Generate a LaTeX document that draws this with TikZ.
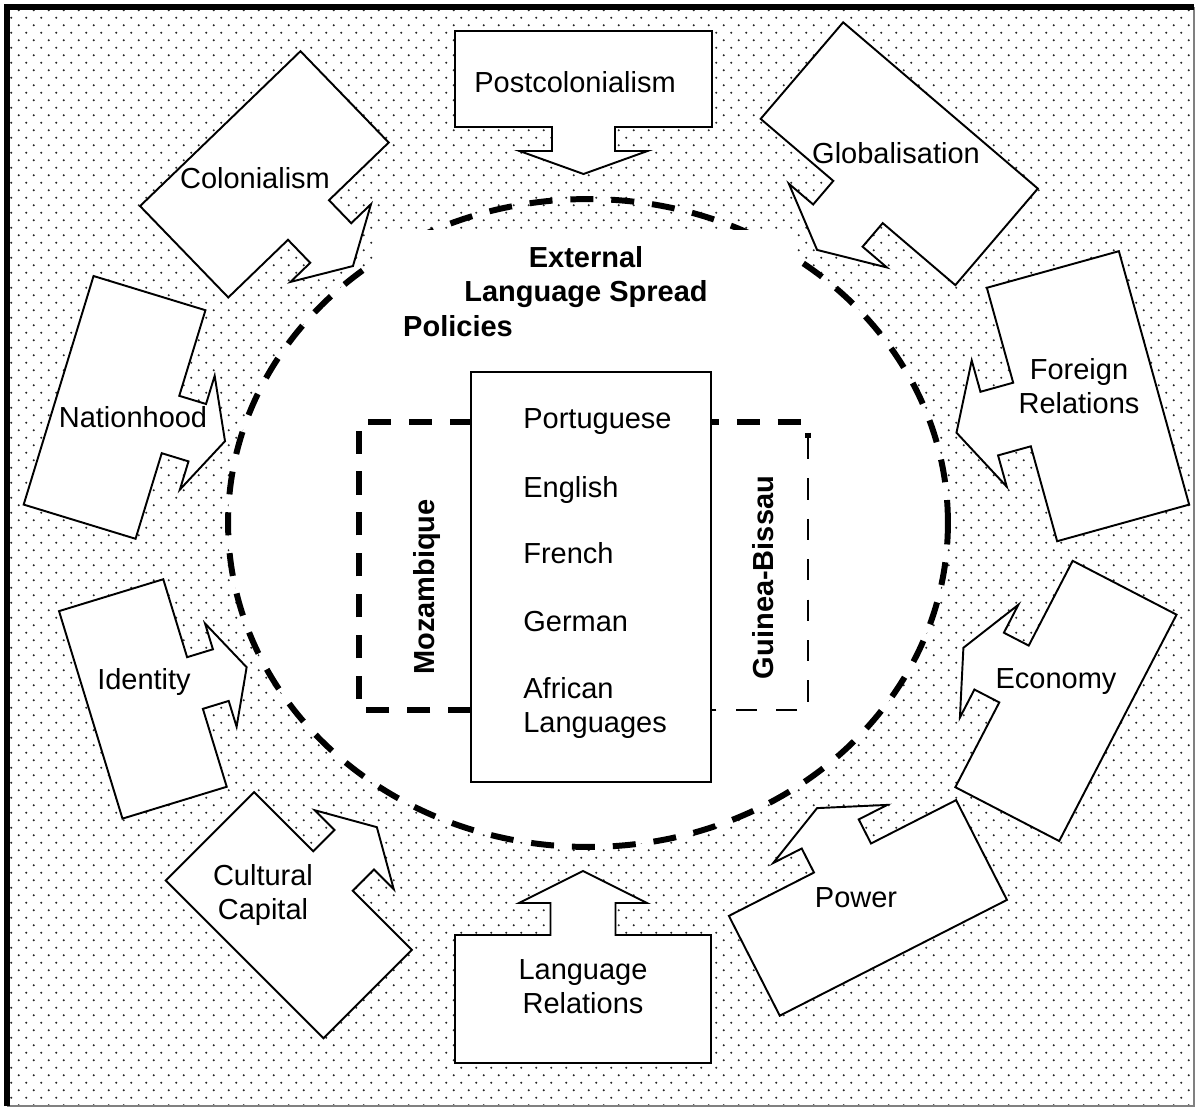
\documentclass[tikz,border=0pt]{standalone}
\usepackage{fontspec}
\setmainfont{Liberation Sans}
\usetikzlibrary{shapes.geometric, patterns}

\pgfdeclarepatternformonly{bgdots}{\pgfqpoint{0pt}{0pt}}{\pgfqpoint{8.536pt}{8.536pt}}{\pgfqpoint{8.536pt}{8.536pt}}{%
  \pgfpathcircle{\pgfqpoint{2.134pt}{2.134pt}}{0.65pt}%
  \pgfpathcircle{\pgfqpoint{6.402pt}{6.402pt}}{0.65pt}%
  \pgfusepath{fill}}

\tikzset{
  lbl/.style={font=\fontsize{16.5}{19.3}\selectfont, inner sep=0pt, align=center},
  boldlbl/.style={lbl, font=\fontsize{16.5}{19.3}\selectfont\bfseries},
  callbox/.style={draw, fill=white, line width=1.1pt, line join=miter},
  bigdash/.style={line width=3.4pt, dash pattern=on 13.1pt off 10.2pt},
}

% #1,#2 base of arrow, #3 angle, #4 box length, #5 box width, #6 neck width, #7 neck length, #8 head width, #9 head length
\newcommand{\drawcallout}[9]{%
  \begin{scope}[shift={(#1,#2)}, rotate=#3]
    \draw[callbox] (-#4,-#5/2) -- (0,-#5/2) -- (0,-#6/2) -- (#7,-#6/2) -- (#7,-#8/2)
      -- ({#7+#9},0) -- (#7,#8/2) -- (#7,#6/2) -- (0,#6/2) -- (0,#5/2) -- (-#4,#5/2) -- cycle;
  \end{scope}}

\begin{document}
\begin{tikzpicture}[x=0.02cm, y=0.02cm, rotate=180, xscale=-1]
\fill[white] (0,0) rectangle (1197,1109);
\useasboundingbox (0,0) rectangle (1197,1109);
\path[pattern=bgdots, pattern color=black!85] (7,7) rectangle (1194,1106);
\draw[gray, line width=0.6pt] (7,1106) -- (1194,1106) -- (1194,7);
\draw[line width=3.4pt] (7,1106) -- (7,7) -- (1194,7);

\begin{scope}
\clip (0,230) rectangle (1197,1109);
\fill[white] (588,523) ellipse [x radius=7.2cm, y radius=6.48cm];
\end{scope}
\node[ellipse, draw, bigdash, minimum width=14.4cm, minimum height=12.96cm, inner sep=0pt] (policy) at (588,523) {};

\fill[white] (375,230) rectangle (793,345);
\node[boldlbl] (title) at (586,277) {External\\Language Spread};
\node[boldlbl] (titlepol) at (458,326.5) {Policies};

\draw[bigdash] (471,710) -- (359,710) -- (359,422) -- (808,422) -- (808,438);
\draw[line width=1.3pt, dash pattern=on 12pt off 11pt] (808,438) -- (808,710) -- (711,710);

\node[draw, fill=white, line width=1.1pt, minimum width=4.8cm, minimum height=8.2cm] (langbox) at (591,577) {};
\foreach \lang/\ypos [count=\i] in {Portuguese/422, English/490, French/553, German/622}
  \node[lbl, anchor=west] (lang\i) at (523,\ypos) {\lang};
\node[lbl, anchor=west, align=left] (lang5) at (523,708) {African\\Languages};

\node[boldlbl, rotate=90] (moz) at (427,587) {Mozambique};
\node[boldlbl, rotate=90] (gbissau) at (763.5,577.5) {Guinea-Bissau};

\drawcallout{583.5}{127}{90}{96}{257}{63}{24}{128}{23}
\drawcallout{583}{935}{-90}{128}{256}{65}{32}{128}{32}
\drawcallout{308.5}{220}{46}{127}{223}{57}{32}{112}{32}
\drawcallout{858}{202}{130.5}{127}{256}{65}{31}{129}{32}
\drawcallout{170.5}{424.5}{17}{117}{239}{60}{28}{119}{29}
\drawcallout{1022}{414.5}{164.5}{137}{263}{66}{34}{131}{34}
\drawcallout{195}{683}{-17}{109}{217}{54}{27}{108}{27}
\drawcallout{1014}{674}{207.4}{117}{255}{64}{28}{127}{29}
\drawcallout{333}{871}{-45}{125}{223}{56}{30}{112}{32}
\drawcallout{842.5}{858}{243}{112}{255}{64}{27}{128}{29}

\node[lbl] (postcol) at (575,82) {Postcolonialism};
\node[lbl] (colon) at (255,178) {Colonialism};
\node[lbl] (glob) at (896,153) {Globalisation};
\node[lbl] (nation) at (133,417) {Nationhood};
\node[lbl] (foreign) at (1079,386.5) {Foreign\\Relations};
\node[lbl] (ident) at (144,682) {Identity};
\node[lbl] (econ) at (1056,682) {Economy};
\node[lbl] (cultcap) at (263,895) {Cultural\\Capital};
\node[lbl] (power) at (856,898) {Power};
\node[lbl] (langrel) at (583,987) {Language\\Relations};
\end{tikzpicture}
\end{document}
